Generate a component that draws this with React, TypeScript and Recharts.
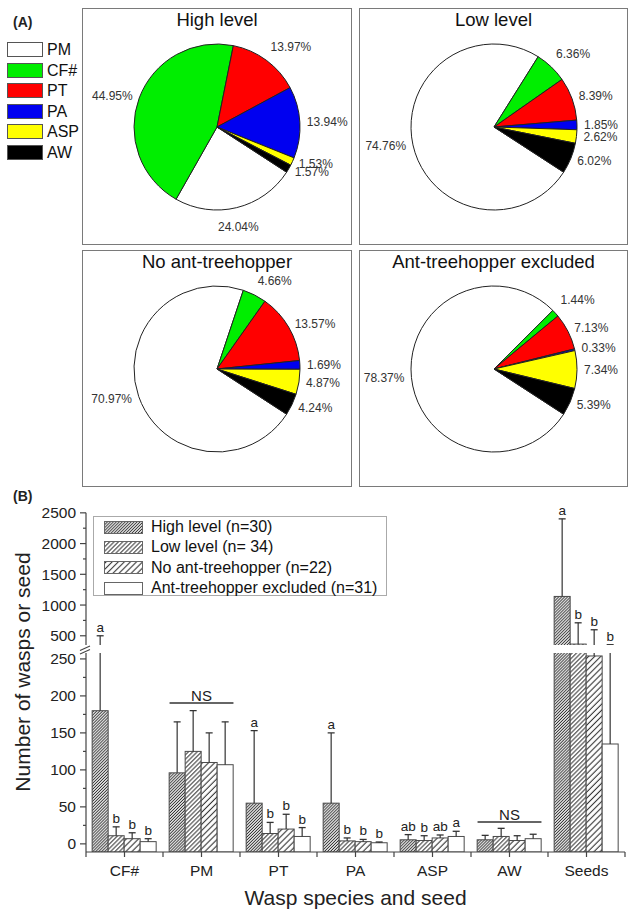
import React from 'react';
import { PieChart, Pie, Cell, BarChart, Bar, XAxis, YAxis, ReferenceArea, ReferenceLine } from 'recharts';

const FONT = 'Arial, "Liberation Sans", Helvetica, sans-serif';

// ---------------- Panel A data ----------------
const PIE_NAMES = ['PM', 'CF#', 'PT', 'PA', 'ASP', 'AW'];
const PIE_COLORS = ['#ffffff', '#00ee00', '#ff0000', '#0000f0', '#ffff00', '#000000'];
const HIGH_PCT = [24.04, 44.95, 13.97, 13.94, 1.53, 1.57];
const LOW_PCT = [74.76, 6.36, 8.39, 1.85, 2.62, 6.02];
const NOANT_PCT = [70.97, 4.66, 13.57, 1.69, 4.87, 4.24];
const EXCL_PCT = [78.37, 1.44, 7.13, 0.33, 7.34, 5.39];
const PIE_TITLES = ['High level', 'Low level', 'No ant-treehopper', 'Ant-treehopper excluded'];

// ---------------- Panel B data ----------------
const CATEGORIES = ['CF#', 'PM', 'PT', 'PA', 'ASP', 'AW', 'Seeds'];
const HIGH_MEAN = [180, 96, 55, 55, 5.5, 5.5, 1140];
const HIGH_ERR = [320, 69, 98, 95, 7, 6, 1262];
const LOW_MEAN = [11, 125, 14, 4, 4.5, 10, 365];
const LOW_ERR = [12, 55, 15, 4, 6.5, 11, 346];
const NOANT_MEAN = [7, 110, 20, 3, 8, 4.5, 254];
const NOANT_ERR = [8, 40, 20, 3, 4, 6.5, 344];
const EXCL_MEAN = [3, 107, 10, 1.5, 10, 7, 135];
const EXCL_ERR = [4, 58, 12, 1, 7, 6, 220];
const HIGH_LETTERS = ['a', '', 'a', 'a', 'ab', '', 'a'];
const LOW_LETTERS = ['b', '', 'b', 'b', 'b', '', 'b'];
const NOANT_LETTERS = ['b', '', 'b', 'b', 'ab', '', 'b'];
const EXCL_LETTERS = ['b', '', 'b', 'b', 'a', '', 'b'];
const SERIES_NAMES = ['High level (n=30)', 'Low level (n= 34)', 'No ant-treehopper (n=22)', 'Ant-treehopper excluded (n=31)'];
const NS_CATEGORIES = ['PM', 'AW'];
const NS_LEVELS = [190, 29];
const LOWER_TICKS = [0, 25, 50, 75, 100, 125, 150, 175, 200, 225, 250];
const UPPER_TICKS = [500, 750, 1000, 1250, 1500, 1750, 2000, 2250, 2500];

// axis domains (broken axis)
const LOWER_MIN = -11;
const LOWER_MAX = 258;
const UPPER_MIN = 350;
const UPPER_MAX = 2660;
const UPPER_AXIS_TOP = 2500;
const BAR_BASE = -11;

const barData = CATEGORIES.map((cat, i) => ({
  cat,
  high: HIGH_MEAN[i], highErr: HIGH_ERR[i], highLet: HIGH_LETTERS[i],
  low: LOW_MEAN[i], lowErr: LOW_ERR[i], lowLet: LOW_LETTERS[i],
  noant: NOANT_MEAN[i], noantErr: NOANT_ERR[i], noantLet: NOANT_LETTERS[i],
  excl: EXCL_MEAN[i], exclErr: EXCL_ERR[i], exclLet: EXCL_LETTERS[i],
}));

const SERIES = [
  { key: 'high', fill: 'url(#hatch-high)' },
  { key: 'low', fill: 'url(#hatch-low)' },
  { key: 'noant', fill: 'url(#hatch-noant)' },
  { key: 'excl', fill: '#ffffff' },
];

const makeBarShape = (key: string, fill: string) => (props: any) => {
  const { x, y, width, height, payload, background } = props;
  const mean = payload[key];
  const err = payload[key + 'Err'];
  const letter = payload[key + 'Let'];
  if (!isFinite(height) || mean - BAR_BASE === 0) return <g />;
  const ppu = height / (mean - BAR_BASE);
  const top = y - err * ppu;
  const cx = x + width / 2;
  let plotTop = -Infinity;
  let plotBottom = Infinity;
  if (background && isFinite(background.y) && isFinite(background.height)) {
    plotTop = background.y;
    plotBottom = background.y + background.height;
  }
  const barVisible = y < plotBottom;
  const errVisible = top < plotBottom && y > plotTop;
  const capVisible = top >= plotTop - 1 && top <= plotBottom + 1;
  return (
    <g>
      {barVisible ? (
        <rect x={x} y={y} width={width} height={height} fill={fill} stroke="#4a4a4a" strokeWidth={1} />
      ) : null}
      {errVisible ? <line x1={cx} x2={cx} y1={y} y2={top} stroke="#333" strokeWidth={1.2} /> : null}
      {capVisible ? (
        <line x1={cx - 3.5} x2={cx + 3.5} y1={top} y2={top} stroke="#333" strokeWidth={1.3} />
      ) : null}
      {letter && capVisible ? (
        <text x={cx} y={top - 4} textAnchor="middle" fontSize={13.5} fill="#222">{letter}</text>
      ) : null}
    </g>
  );
};

const SERIES_SHAPES = SERIES.map((s) => makeBarShape(s.key, s.fill));
const SERIES_KEYS = SERIES.map((s) => (d: any) => [BAR_BASE, d[s.key]]);

const TICK_SIZE = 6;
const TICK_MARGIN = 4;
const makeYTick = (majorStep: number) => (props: any) => {
  const { x, y, payload } = props;
  const v = payload.value;
  const major = v % majorStep === 0;
  const ax = x + TICK_SIZE + TICK_MARGIN;
  return (
    <g>
      <line x1={ax} x2={ax - (major ? 6 : 3)} y1={y} y2={y} stroke="#444" strokeWidth={1.2} />
      {major ? (
        <text x={x} y={y} dy="0.36em" textAnchor="end" fontSize={15.5} fill="#222">{v}</text>
      ) : null}
    </g>
  );
};
const lowerTick = makeYTick(50);
const upperTick = makeYTick(500);

const X_TICK_SIZE = 5;
const X_TICK_MARGIN = 6;
const xTick = (props: any) => {
  const { x, y, payload, index } = props;
  const ay = y - X_TICK_SIZE - X_TICK_MARGIN;
  const half = payload && isFinite(payload.offset) ? payload.offset : 0;
  const isLast = index === CATEGORIES.length - 1;
  return (
    <g>
      <line x1={x} x2={x} y1={ay} y2={ay + X_TICK_SIZE} stroke="#444" strokeWidth={1.2} />
      {half > 0 ? <line x1={x - half} x2={x - half} y1={ay} y2={ay + X_TICK_SIZE} stroke="#444" strokeWidth={1.2} /> : null}
      {half > 0 && isLast ? <line x1={x + half} x2={x + half} y1={ay} y2={ay + X_TICK_SIZE} stroke="#444" strokeWidth={1.2} /> : null}
      <text x={x} y={y} dy="0.85em" textAnchor="middle" fontSize={15.5} fill="#222">{payload.value}</text>
    </g>
  );
};

const nsShape = (props: any) => {
  const { x, y, width, height } = props;
  const inset = width * 0.085;
  const ly = y + height / 2;
  return (
    <g>
      <line x1={x + inset} x2={x + width - inset} y1={ly} y2={ly} stroke="#333" strokeWidth={1.5} />
      <text x={x + width / 2} y={ly - 2} textAnchor="middle" fontSize={15} fill="#222">NS</text>
    </g>
  );
};

const renderPieLabel = (p: any) => {
  const RAD = Math.PI / 180;
  const r = p.outerRadius + 7;
  const c = Math.cos(-p.midAngle * RAD);
  const s = Math.sin(-p.midAngle * RAD);
  const x = p.cx + r * c;
  const y = p.cy + r * s;
  const anchor = c > 0.25 ? 'start' : c < -0.25 ? 'end' : 'middle';
  const dy = s < -0.6 ? -4 : s > 0.6 ? 17 : 4;
  return (
    <text x={x} y={y + dy} textAnchor={anchor} fontSize={12} fill="#333" fontFamily={FONT}>
      {Number(p.value).toFixed(2)}%
    </text>
  );
};

const PIE_SETS = [HIGH_PCT, LOW_PCT, NOANT_PCT, EXCL_PCT];
const BOXES = [
  { left: 82, top: 8, w: 270, h: 237 },
  { left: 359, top: 8, w: 269, h: 237 },
  { left: 82, top: 250, w: 270, h: 237 },
  { left: 359, top: 250, w: 269, h: 237 },
];

function PiePanel({ idx }: { idx: number }) {
  const box = BOXES[idx];
  const data = PIE_NAMES.map((name, i) => ({ name, value: PIE_SETS[idx][i] }));
  return (
    <div style={{ position: 'absolute', left: box.left, top: box.top, width: box.w, height: box.h }}>
      <div style={{ position: 'absolute', left: 0, top: 0 }}>
        <PieChart width={box.w} height={box.h} margin={{ top: 0, right: 0, bottom: 0, left: 0 }}>
          <Pie
            data={data}
            dataKey="value"
            nameKey="name"
            cx={135}
            cy={119}
            outerRadius={83}
            startAngle={-33}
            endAngle={-393}
            stroke="#222"
            strokeWidth={1}
            label={renderPieLabel}
            labelLine={false}
            isAnimationActive={false}
          >
            {data.map((d, i) => (
              <Cell key={d.name} fill={PIE_COLORS[i]} />
            ))}
          </Pie>
        </PieChart>
      </div>
      <div style={{ position: 'absolute', left: 0, top: 0, width: box.w, height: box.h, border: '1.5px solid #7a7a7a', boxSizing: 'border-box' }} />
      <div style={{ position: 'absolute', left: 0, top: 1, width: box.w, textAlign: 'center', fontSize: 18.5, lineHeight: '22px', color: '#111' }}>
        {PIE_TITLES[idx]}
      </div>
    </div>
  );
}

export default function App() {
  return (
    <div style={{ position: 'absolute', left: 0, top: 0, width: 631, height: 914, background: '#fff', fontFamily: FONT, overflow: 'hidden' }}>
      <svg width={0} height={0} style={{ position: 'absolute' }}>
        <defs>
          <pattern id="hatch-high" patternUnits="userSpaceOnUse" width={2.1} height={2.1} patternTransform="rotate(45)">
            <rect width={2.1} height={2.1} fill="#fff" />
            <line x1={1} y1={0} x2={1} y2={2.1} stroke="#333" strokeWidth={1} />
          </pattern>
          <pattern id="hatch-low" patternUnits="userSpaceOnUse" width={3.1} height={3.1} patternTransform="rotate(45)">
            <rect width={3.1} height={3.1} fill="#fff" />
            <line x1={1.5} y1={0} x2={1.5} y2={3.1} stroke="#333" strokeWidth={1} />
          </pattern>
          <pattern id="hatch-noant" patternUnits="userSpaceOnUse" width={4.3} height={4.3} patternTransform="rotate(45)">
            <rect width={4.3} height={4.3} fill="#fff" />
            <line x1={2.1} y1={0} x2={2.1} y2={4.3} stroke="#333" strokeWidth={1.1} />
          </pattern>
        </defs>
      </svg>

      {/* Panel A */}
      <div style={{ position: 'absolute', left: 13, top: 14, fontSize: 14, fontWeight: 'bold', color: '#222' }}>(A)</div>
      {PIE_NAMES.map((n, i) => (
        <div key={n} style={{ position: 'absolute', left: 7, top: 42 + i * 20.6, height: 15, display: 'flex', alignItems: 'center' }}>
          <div style={{ width: 36, height: 15, background: PIE_COLORS[i], border: '1.5px solid #555', boxSizing: 'border-box' }} />
          <div style={{ marginLeft: 4, fontSize: 16, lineHeight: '15px', color: '#111' }}>{n}</div>
        </div>
      ))}
      {[0, 1, 2, 3].map((i) => (
        <PiePanel key={i} idx={i} />
      ))}

      {/* Panel B */}
      <div style={{ position: 'absolute', left: 13, top: 488, fontSize: 14, fontWeight: 'bold', color: '#222' }}>(B)</div>

      <div style={{ position: 'absolute', left: 0, top: 480 }}>
        <BarChart width={631} height={170} data={barData} margin={{ top: 23, right: 6, bottom: 5, left: 0 }} barCategoryGap="8%" barGap={0}>
          <XAxis dataKey="cat" hide />
          <YAxis
            type="number"
            domain={[UPPER_MIN, UPPER_MAX]}
            allowDataOverflow
            ticks={UPPER_TICKS}
            interval={0}
            width={86}
            axisLine={false}
            tickLine={false}
            tickSize={TICK_SIZE}
            tickMargin={TICK_MARGIN}
            tick={upperTick}
          />
          <ReferenceLine
            segment={[{ x: CATEGORIES[0], y: UPPER_MIN }, { x: CATEGORIES[0], y: UPPER_AXIS_TOP }]}
            position="start"
            stroke="#444"
            strokeWidth={1.2}
            ifOverflow="visible"
          />
          {SERIES.map((s, i) => (
            <Bar key={s.key} dataKey={SERIES_KEYS[i]} shape={SERIES_SHAPES[i]} isAnimationActive={false} />
          ))}
        </BarChart>
      </div>

      <div style={{ position: 'absolute', left: 0, top: 640 }}>
        <BarChart width={631} height={274} data={barData} margin={{ top: 13, right: 6, bottom: 32, left: 0 }} barCategoryGap="8%" barGap={0}>
          <XAxis
            dataKey="cat"
            height={30}
            interval={0}
            tick={xTick}
            tickLine={false}
            axisLine={{ stroke: '#444', strokeWidth: 1.2 }}
            tickSize={X_TICK_SIZE}
            tickMargin={X_TICK_MARGIN}
            label={{ value: 'Wasp species and seed', position: 'bottom', offset: 8, fontSize: 21, fill: '#222' }}
          />
          <YAxis
            type="number"
            domain={[LOWER_MIN, LOWER_MAX]}
            allowDataOverflow
            ticks={LOWER_TICKS}
            interval={0}
            width={86}
            axisLine={{ stroke: '#444', strokeWidth: 1.2 }}
            tickLine={false}
            tickSize={TICK_SIZE}
            tickMargin={TICK_MARGIN}
            tick={lowerTick}
          />
          {SERIES.map((s, i) => (
            <Bar key={s.key} dataKey={SERIES_KEYS[i]} shape={SERIES_SHAPES[i]} isAnimationActive={false} />
          ))}
          {NS_CATEGORIES.map((c, i) => (
            <ReferenceArea key={c} x1={c} x2={c} y1={NS_LEVELS[i]} y2={NS_LEVELS[i] + 1} shape={nsShape} ifOverflow="visible" />
          ))}
        </BarChart>
      </div>

      {/* Legend for panel B */}
      <div style={{ position: 'absolute', left: 93, top: 516, width: 294, height: 80, border: '1px solid #aaa', boxSizing: 'border-box', background: '#fff' }}>
        {SERIES_NAMES.map((n, i) => (
          <div key={n} style={{ position: 'absolute', left: 10, top: 4 + i * 20.4, height: 12, display: 'flex', alignItems: 'center' }}>
            <svg width={39} height={13} style={{ display: 'block' }}>
              <rect x={0.5} y={0.5} width={38} height={12} fill={SERIES[i].fill} stroke="#666" strokeWidth={1} />
            </svg>
            <div style={{ marginLeft: 8, fontSize: 16, lineHeight: '12px', whiteSpace: 'nowrap', color: '#111' }}>{n}</div>
          </div>
        ))}
      </div>

      {/* axis title and break marks */}
      <svg width={631} height={914} style={{ position: 'absolute', left: 0, top: 0, pointerEvents: 'none' }}>
        <text transform="translate(30,672) rotate(-90)" textAnchor="middle" fontSize={21} fill="#222">
          Number of wasps or seed
        </text>
        <line x1={80} y1={650.5} x2={90} y2={646} stroke="#444" strokeWidth={1.1} />
        <line x1={80} y1={654} x2={90} y2={649.5} stroke="#444" strokeWidth={1.1} />
      </svg>
    </div>
  );
}
